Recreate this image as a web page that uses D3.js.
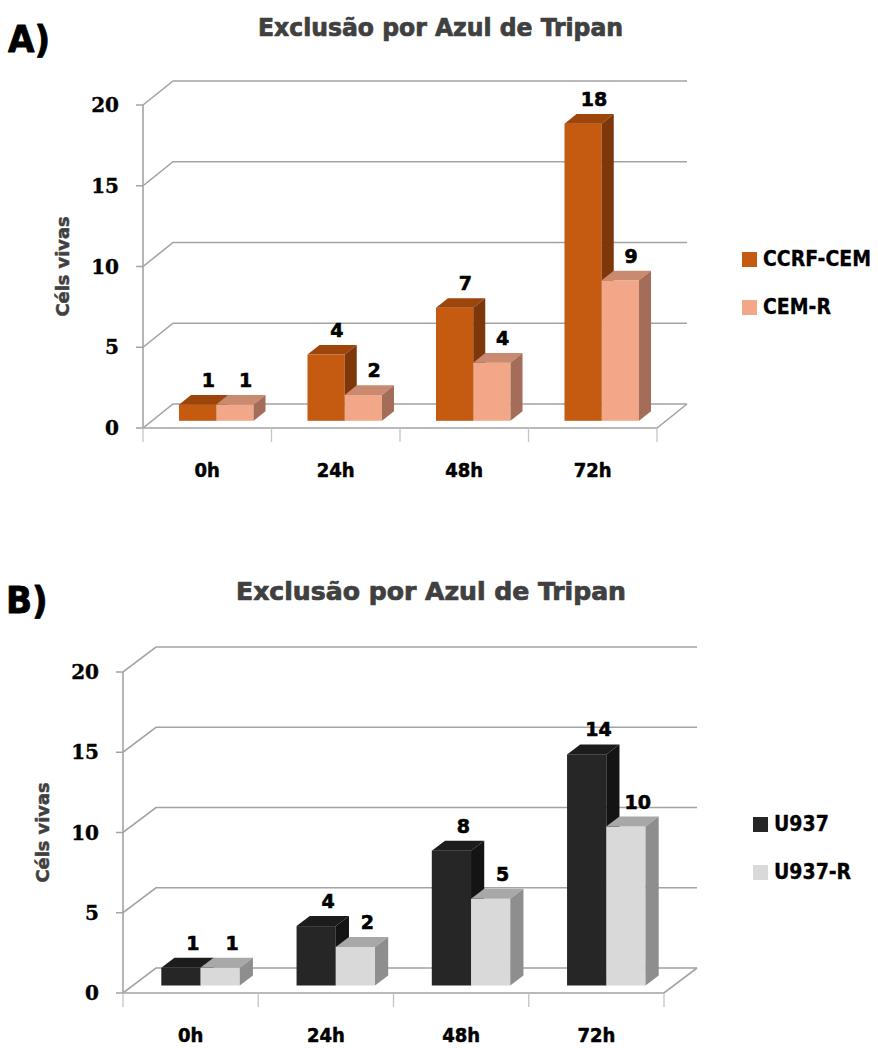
<!DOCTYPE html>
<html>
<head>
<meta charset="utf-8">
<script src="https://cdn.jsdelivr.net/npm/d3@7/dist/d3.min.js"></script>
<style>
  html, body { margin: 0; padding: 0; background: #fff; }
  svg { display: block; }
</style>
</head>
<body>
<svg id="chart" width="878" height="1048"></svg>
<script>
// Time points and tick values shared by both panels
const categories = ["0h", "24h", "48h", "72h"];
const yTicks = [0, 5, 10, 15, 20];

// Panel A: CCRF-CEM vs CEM-R
const seriesA = ["CCRF-CEM", "CEM-R"];
const valuesCCRF = [1.0, 4.1, 7.0, 18.4];
const valuesCEMR = [1.0, 1.6, 3.6, 8.7];

// Panel B: U937 vs U937-R
const seriesB = ["U937", "U937-R"];
const valuesU937 = [1.1, 3.7, 8.4, 14.4];
const valuesU937R = [1.1, 2.4, 5.4, 9.9];

const titleText = "Exclusão por Azul de Tripan";
const yLabelText = "Céls vivas";

const svg = d3.select("#chart");
const sans = "'DejaVu Sans Condensed', 'DejaVu Sans', sans-serif";
const serif = "'DejaVu Serif', serif";
const gridColor = "#a3a3a3";

// heavy bold text: bold face plus a thin outline in the same colour
function heavy(sel, color, w) {
  return sel.attr("fill", color).attr("stroke", color)
    .attr("stroke-width", w).attr("stroke-linejoin", "round");
}

function drawPanel(opt) {
  const g = svg.append("g");
  const y = d3.scaleLinear().domain([0, 20]).range([opt.y0, opt.yTop]);
  const x = d3.scaleBand().domain(categories).range([opt.left, opt.right]);
  const bw = x.bandwidth();
  const inner = d3.scaleBand().domain(opt.series)
    .range([bw * 0.21, bw * 0.79]);
  const dx = opt.dx, dy = opt.dy;

  // panel letter
  heavy(g.append("text").attr("x", opt.letterX).attr("y", opt.letterY)
    .attr("font-family", sans).attr("font-weight", "bold")
    .attr("font-size", 38), "#000", 0.8).text(opt.letter);

  // title
  heavy(g.append("text").attr("x", opt.titleX).attr("y", opt.titleY)
    .attr("font-family", sans).attr("font-weight", "bold")
    .attr("font-size", 25)
    .attr("textLength", opt.titleW).attr("lengthAdjust", "spacingAndGlyphs"), "#404040", 0.7)
    .text(titleText);

  // y-axis title
  const yMid = (y(0) + y(20)) / 2;
  heavy(g.append("text")
    .attr("transform", `translate(${opt.yLabelX},${yMid}) rotate(-90)`)
    .attr("text-anchor", "middle")
    .attr("font-family", sans).attr("font-weight", "bold")
    .attr("font-size", 18)
    .attr("textLength", 100).attr("lengthAdjust", "spacingAndGlyphs"), "#404040", 0.5)
    .text(yLabelText);

  // gridlines: front tick, diagonal to back wall, then along the wall
  g.selectAll(".grid").data(yTicks).join("path")
    .attr("fill", "none").attr("stroke", gridColor).attr("stroke-width", 1.6)
    .attr("d", t => {
      const yy = y(t);
      return `M${opt.left - 7},${yy}H${opt.left}L${opt.left + dx},${yy + dy}H${opt.right + dx}`;
    });

  // floor front edge and right edge
  g.append("path").attr("fill", "none").attr("stroke", gridColor).attr("stroke-width", 1.6)
    .attr("d", `M${opt.left},${y(0)}H${opt.right}L${opt.right + dx},${y(0) + dy}`);

  // vertical value axis
  g.append("line").attr("x1", opt.left).attr("x2", opt.left)
    .attr("y1", y(20)).attr("y2", y(0))
    .attr("stroke", gridColor).attr("stroke-width", 1.6);

  // category ticks at band boundaries
  const bounds = categories.map(c => x(c)).concat([opt.right]);
  g.selectAll(".ctick").data(bounds).join("line")
    .attr("x1", d => d).attr("x2", d => d)
    .attr("y1", y(0)).attr("y2", y(0) + 14)
    .attr("stroke", "#c4c4c4").attr("stroke-width", 1.3);

  // value tick labels
  heavy(g.selectAll(".ylab").data(yTicks).join("text")
    .attr("x", opt.left - 24).attr("y", t => y(t) + 7)
    .attr("text-anchor", "end")
    .attr("font-family", serif).attr("font-weight", "bold")
    .attr("font-size", 20), "#000", 0.4)
    .text(t => t);

  // category labels
  heavy(g.selectAll(".xlab").data(categories).join("text")
    .attr("x", c => x(c) + bw / 2).attr("y", y(0) + 49)
    .attr("text-anchor", "middle")
    .attr("font-family", sans).attr("font-weight", "bold")
    .attr("font-size", 20), "#000", 0.5)
    .text(c => c);

  // 3D bars: offset into the floor depth, then front, top and side faces
  const offX = dx * 0.3, offY = dy * 0.3;
  const bdx = dx * 0.4, bdy = dy * 0.4;
  const bars = [];
  categories.forEach((c, i) => {
    opt.series.forEach((s, j) => {
      bars.push({ c, s, j, v: opt.values[j][i] });
    });
  });
  const barG = g.selectAll(".bar").data(bars).join("g");
  barG.each(function (d) {
    const bg = d3.select(this);
    const x0 = x(d.c) + inner(d.s) + offX;
    const w = inner.bandwidth();
    const yb = y(0) + offY;
    const yt = y(d.v) + offY;
    const col = opt.colors[d.j];
    bg.append("rect").attr("x", x0).attr("y", yt)
      .attr("width", w).attr("height", yb - yt).attr("fill", col.front);
    bg.append("path").attr("fill", col.top)
      .attr("d", `M${x0},${yt}L${x0 + bdx},${yt + bdy}H${x0 + w + bdx}L${x0 + w},${yt}Z`);
    bg.append("path").attr("fill", col.side)
      .attr("d", `M${x0 + w},${yt}L${x0 + w + bdx},${yt + bdy}V${yb + bdy}L${x0 + w},${yb}Z`);
    // value label above the bar
    heavy(bg.append("text")
      .attr("x", x0 + w / 2 + bdx * 0.9).attr("y", yt + bdy - 8)
      .attr("text-anchor", "middle")
      .attr("font-family", "'DejaVu Sans', sans-serif").attr("font-weight", "bold")
      .attr("font-size", 19), "#000", 0.6)
      .text(d3.format(".0f")(d.v));
  });

  // legend
  opt.series.forEach((s, j) => {
    const ly = opt.legendY + j * 48;
    g.append("rect").attr("x", opt.legendX).attr("y", ly - 14)
      .attr("width", 15).attr("height", 15).attr("fill", opt.colors[j].front);
    heavy(g.append("text").attr("x", opt.legendX + 21).attr("y", ly)
      .attr("font-family", sans).attr("font-weight", "bold")
      .attr("font-size", 21), "#000", 0.3).text(s);
  });
}

drawPanel({
  letter: "A)", letterX: 8, letterY: 52,
  titleX: 258, titleY: 36, titleW: 365,
  yLabelX: 69,
  left: 143, right: 657, y0: 428, yTop: 105, dx: 30, dy: -24,
  series: seriesA, values: [valuesCCRF, valuesCEMR],
  colors: [
    { front: "#C55A11", top: "#9E450B", side: "#7E370A" },
    { front: "#F2A888", top: "#C98A70", side: "#A46D5A" }
  ],
  legendX: 742, legendY: 266
});

drawPanel({
  letter: "B)", letterX: 6, letterY: 613,
  titleX: 236, titleY: 600, titleW: 390,
  yLabelX: 49,
  left: 123, right: 664, y0: 993, yTop: 672, dx: 33, dy: -25,
  series: seriesB, values: [valuesU937, valuesU937R],
  colors: [
    { front: "#262626", top: "#1C1C1C", side: "#141414" },
    { front: "#D9D9D9", top: "#A8A8A8", side: "#8E8E8E" }
  ],
  legendX: 753, legendY: 831
});
</script>
</body>
</html>
